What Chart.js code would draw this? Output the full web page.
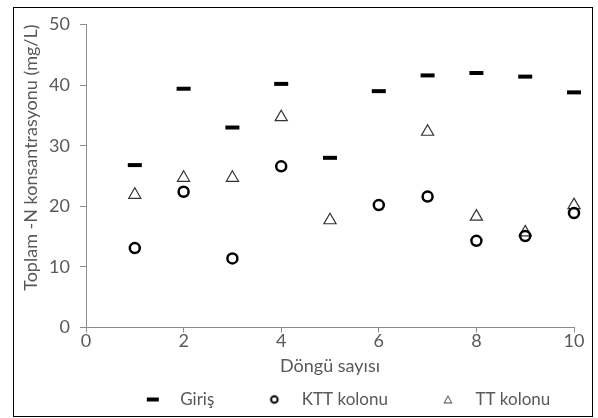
<!DOCTYPE html>
<html>
<head>
<meta charset="utf-8">
<script src="https://cdn.jsdelivr.net/npm/chart.js@4.4.1/dist/chart.umd.min.js"></script>
<style>
  html, body { margin: 0; padding: 0; background: #fff; }
  #wrap { position: relative; width: 598px; height: 418px; }
</style>
</head>
<body>
<div id="wrap"><canvas id="chart" width="598" height="418"></canvas></div>
<script>
// data
var cycles = [1, 2, 3, 4, 5, 6, 7, 8, 9, 10];
var giris = [26.8, 39.4, 33.0, 40.2, 28.0, 39.0, 41.6, 42.0, 41.4, 38.8];
var ktt = [13.1, 22.4, 11.4, 26.6, null, 20.2, 21.6, 14.3, 15.1, 18.9];
var tt = [21.9, 24.7, 24.7, 34.7, 17.7, null, 32.3, 18.3, 15.7, 20.2];
var seriesNames = ["Giriş", "KTT kolonu", "TT kolonu"];
var xTicks = [0, 2, 4, 6, 8, 10];
var yTicks = [0, 10, 20, 30, 40, 50];

var textColor = '#595959';
var axisColor = '#8c8c8c';
var fontFamily = 'Lato, "Open Sans", sans-serif';

function points(ys) {
  var out = [];
  cycles.forEach(function (x, i) {
    if (ys[i] !== null) out.push({ x: x, y: ys[i] });
  });
  return out;
}

// small markers for the legend
function legendMarker(kind) {
  var c = document.createElement('canvas');
  c.width = 14; c.height = 12;
  var g = c.getContext('2d');
  if (kind === 'dash') {
    g.fillStyle = '#000';
    g.fillRect(1, 4, 12, 4);
  } else if (kind === 'circle') {
    g.strokeStyle = '#000';
    g.lineWidth = 2;
    g.beginPath(); g.arc(7, 6, 3.3, 0, Math.PI * 2); g.stroke();
  } else {
    g.strokeStyle = '#404040';
    g.lineWidth = 1;
    g.beginPath(); g.moveTo(7, 2.5); g.lineTo(3.2, 9.5); g.lineTo(10.8, 9.5); g.closePath(); g.stroke();
  }
  return c;
}
var legendMarkers = [legendMarker('dash'), legendMarker('circle'), legendMarker('tri')];

var framePlugin = {
  id: 'frame',
  afterLayout: function (chart) {
    // legend row sits a bit right of the canvas centre
    chart.legend.left += 64;
    chart.legend.right += 46;
  },
  afterDraw: function (chart) {
    var ctx = chart.ctx;
    ctx.save();
    ctx.strokeStyle = '#000';
    ctx.lineWidth = 1;
    ctx.strokeRect(13.5, 7.5, 579, 409);
    ctx.restore();
  }
};

new Chart(document.getElementById('chart').getContext('2d'), {
  type: 'scatter',
  data: {
    datasets: [{
      label: seriesNames[0],
      data: points(giris),
      clip: false,
      pointStyle: 'line',
      pointRadius: 7,
      pointHoverRadius: 7,
      borderWidth: 4,
      pointBorderWidth: 4,
      borderColor: '#000',
      backgroundColor: '#000'
    }, {
      label: seriesNames[1],
      data: points(ktt),
      clip: false,
      pointStyle: 'circle',
      pointRadius: 5,
      pointHoverRadius: 5,
      pointBorderWidth: 2.5,
      borderColor: '#000',
      backgroundColor: 'rgba(0,0,0,0)'
    }, {
      label: seriesNames[2],
      data: points(tt),
      clip: false,
      pointStyle: 'triangle',
      pointRadius: 7,
      pointHoverRadius: 7,
      pointBorderWidth: 1.2,
      borderColor: '#333',
      backgroundColor: 'rgba(0,0,0,0)'
    }]
  },
  options: {
    responsive: false,
    animation: false,
    layout: { padding: { left: 0, right: 24, top: 24.5, bottom: 0 } },
    scales: {
      x: {
        type: 'linear',
        min: 0,
        max: 10,
        afterBuildTicks: function (s) { s.ticks = xTicks.map(function (v) { return { value: v }; }); },
        afterFit: function (s) { s.height = 22.5; },
        grid: { drawOnChartArea: false, drawTicks: true, tickLength: 5, color: axisColor },
        border: { color: axisColor },
        ticks: { color: textColor, padding: -2, font: { family: fontFamily, size: 18 } },
        title: {
          display: true,
          text: 'Döngü sayısı',
          color: textColor,
          font: { family: fontFamily, size: 18 },
          padding: { top: 0, bottom: -26.8 }
        }
      },
      y: {
        min: 0,
        max: 50,
        afterBuildTicks: function (s) { s.ticks = yTicks.map(function (v) { return { value: v }; }); },
        afterFit: function (s) { s.width = 86; },
        grid: { drawOnChartArea: false, drawTicks: true, tickLength: 6, color: axisColor },
        border: { color: axisColor },
        ticks: { color: textColor, padding: 10, font: { family: fontFamily, size: 18 } },
        title: {
          display: true,
          text: 'Toplam -N konsantrasyonu (mg/L)',
          align: 'end',
          color: textColor,
          font: { family: fontFamily, size: 18 },
          padding: { top: 20, bottom: 0 }
        }
      }
    },
    plugins: {
      tooltip: { enabled: false },
      legend: {
        position: 'bottom',
        labels: {
          usePointStyle: true,
          pointStyleWidth: 38,
          padding: 41,
          color: textColor,
          font: { family: fontFamily, size: 17 },
          generateLabels: function (chart) {
            var base = Chart.defaults.plugins.legend.labels.generateLabels(chart);
            return base.map(function (l, i) {
              l.pointStyle = legendMarkers[i];
              return l;
            });
          }
        }
      }
    }
  },
  plugins: [framePlugin]
});
</script>
</body>
</html>
